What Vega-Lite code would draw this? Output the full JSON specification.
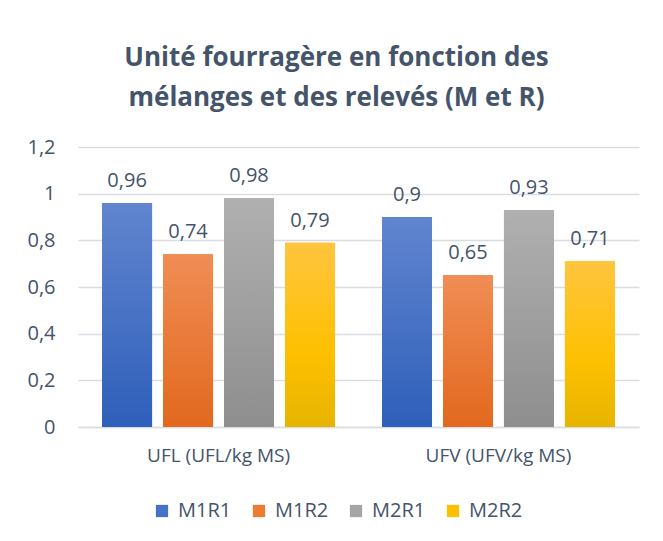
{
  "$schema": "https://vega.github.io/schema/vega-lite/v6.json",
  "width": 561,
  "height": 280,
  "autosize": {"type": "none"},
  "padding": {"left": 78, "top": 147, "right": 24, "bottom": 114},
  "background": "white",
  "title": {
    "text": ["Unité fourragère en fonction des", "mélanges et des relevés (M et R)"],
    "font": "Open Sans",
    "fontSize": 26,
    "fontWeight": "bold",
    "color": "#44546A",
    "anchor": "middle",
    "dx": -22,
    "offset": 26,
    "lineHeight": 40
  },
  "config": {
    "locale": {"number": {"decimal": ",", "thousands": " ", "grouping": [3], "currency": ["", " €"]}},
    "font": "Open Sans",
    "view": {"stroke": null}
  },
  "data": {
    "values": [
      {"cat": "UFL (UFL/kg MS)", "serie": "M1R1", "v": 0.96},
      {"cat": "UFL (UFL/kg MS)", "serie": "M1R2", "v": 0.74},
      {"cat": "UFL (UFL/kg MS)", "serie": "M2R1", "v": 0.98},
      {"cat": "UFL (UFL/kg MS)", "serie": "M2R2", "v": 0.79},
      {"cat": "UFV (UFV/kg MS)", "serie": "M1R1", "v": 0.9},
      {"cat": "UFV (UFV/kg MS)", "serie": "M1R2", "v": 0.65},
      {"cat": "UFV (UFV/kg MS)", "serie": "M2R1", "v": 0.93},
      {"cat": "UFV (UFV/kg MS)", "serie": "M2R2", "v": 0.71}
    ]
  },
  "encoding": {
    "x": {
      "field": "cat", "type": "nominal",
      "scale": {"paddingInner": 0.168, "paddingOuter": 0.086},
      "axis": {
        "title": null, "labelAngle": 0, "labelFontSize": 19, "labelColor": "#44546A",
        "labelPadding": 19, "ticks": false, "domainColor": "#D9DDE3", "domainWidth": 1.5
      }
    },
    "xOffset": {
      "field": "serie", "type": "nominal",
      "scale": {"domain": ["M1R1", "M1R2", "M2R1", "M2R2"], "paddingInner": 0.18, "paddingOuter": 0}
    },
    "y": {
      "field": "v", "type": "quantitative",
      "scale": {"domain": [0, 1.2], "nice": false},
      "axis": {
        "title": null, "values": [0, 0.2, 0.4, 0.6, 0.8, 1, 1.2], "format": "~g",
        "labelFontSize": 20, "labelColor": "#44546A", "labelPadding": 23,
        "ticks": false, "domain": false, "gridColor": "#D9DDE3", "gridWidth": 1.5
      }
    }
  },
  "layer": [
    {
      "mark": {"type": "bar"},
      "encoding": {
        "color": {
          "field": "serie", "type": "nominal",
          "scale": {
            "domain": ["M1R1", "M1R2", "M2R1", "M2R2"],
            "range": ["#4472C4", "#ED7D31", "#A5A5A5", "#FFC000"]
          },
          "legend": {
            "title": null, "orient": "none", "direction": "horizontal",
            "legendX": 74, "legendY": 354,
            "symbolType": "square", "symbolSize": 150, "symbolStrokeWidth": 0,
            "labelFontSize": 20, "labelColor": "#44546A", "labelOffset": 6,
            "columnPadding": 17
          }
        }
      }
    },
    {
      "transform": [{"filter": "datum.serie === 'M1R1'"}],
      "mark": {"type": "bar", "color": {"gradient": "linear", "x1": 0, "y1": 0, "x2": 0, "y2": 1, "stops": [{"offset": 0, "color": "#6185CF"}, {"offset": 1, "color": "#2E5FBA"}]}},
      "encoding": {}
    },
    {
      "transform": [{"filter": "datum.serie === 'M1R2'"}],
      "mark": {"type": "bar", "color": {"gradient": "linear", "x1": 0, "y1": 0, "x2": 0, "y2": 1, "stops": [{"offset": 0, "color": "#F08D55"}, {"offset": 1, "color": "#E2681E"}]}},
      "encoding": {}
    },
    {
      "transform": [{"filter": "datum.serie === 'M2R1'"}],
      "mark": {"type": "bar", "color": {"gradient": "linear", "x1": 0, "y1": 0, "x2": 0, "y2": 1, "stops": [{"offset": 0, "color": "#B0B0B0"}, {"offset": 1, "color": "#8E8E8E"}]}},
      "encoding": {}
    },
    {
      "transform": [{"filter": "datum.serie === 'M2R2'"}],
      "mark": {"type": "bar", "color": {"gradient": "linear", "x1": 0, "y1": 0, "x2": 0, "y2": 1, "stops": [{"offset": 0, "color": "#FFC53F"}, {"offset": 0.6, "color": "#FEC000"}, {"offset": 1, "color": "#E6B400"}]}},
      "encoding": {}
    },
    {
      "mark": {"type": "text", "baseline": "bottom", "dy": -12, "fontSize": 20, "color": "#44546A"},
      "encoding": {
        "text": {"field": "v", "type": "quantitative", "format": "~g"}
      }
    }
  ]
}
